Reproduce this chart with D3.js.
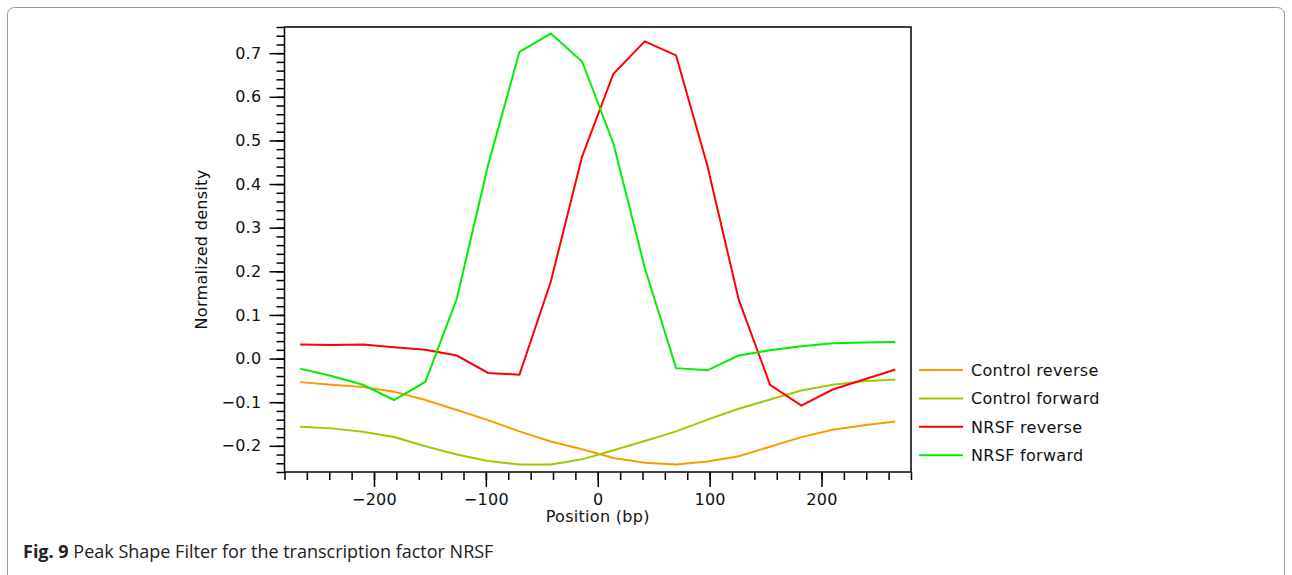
<!DOCTYPE html>
<html>
<meta charset="utf-8">
<title>Peak Shape Filter NRSF</title>
<style>
  body { margin: 0; background: #fff; }
  .tick text, .lab { font-family: "DejaVu Sans", sans-serif; font-size: 16px; letter-spacing: 0.3px; fill: #111; }
  .caption { font-family: "Open Sans", sans-serif; font-size: 18px; fill: #222; }
</style>
<body>
<div id="chart"></div>
<script src="https://d3js.org/d3.v7.min.js"></script>
<script>

// positions (bp)
const positions = [-266, -238, -210, -182, -154, -126, -98, -70, -42, -14,
  14, 42, 70, 98, 126, 154, 182, 210, 238, 266];

const controlReverse = [-0.054, -0.060, -0.065, -0.076, -0.095, -0.118, -0.141, -0.167, -0.190, -0.208,
  -0.228, -0.239, -0.243, -0.236, -0.224, -0.202, -0.180, -0.163, -0.153, -0.144];

const controlForward = [-0.156, -0.160, -0.168, -0.180, -0.201, -0.220, -0.235, -0.243, -0.243, -0.231,
  -0.210, -0.189, -0.167, -0.140, -0.115, -0.094, -0.073, -0.060, -0.052, -0.048];

const nrsfReverse = [0.032, 0.031, 0.032, 0.026, 0.020, 0.007, -0.033, -0.037, 0.176, 0.463,
  0.653, 0.727, 0.695, 0.442, 0.135, -0.060, -0.108, -0.071, -0.048, -0.025];

const nrsfForward = [-0.023, -0.040, -0.060, -0.095, -0.053, 0.137, 0.444, 0.703, 0.745, 0.681,
  0.493, 0.208, -0.022, -0.027, 0.007, 0.019, 0.028, 0.035, 0.037, 0.038];

const seriesNames = ['Control reverse', 'Control forward', 'NRSF reverse', 'NRSF forward'];
const seriesValues = [controlReverse, controlForward, nrsfReverse, nrsfForward];
const colors = ['#ff9900', '#99cc00', '#ff0000', '#00ee00'];

const xMajor = [-200, -100, 0, 100, 200];
const yMajor = [-0.2, -0.1, 0.0, 0.1, 0.2, 0.3, 0.4, 0.5, 0.6, 0.7];

const W = 1292, H = 575;
const plot = {left: 284.5, right: 911, top: 27, bottom: 472};

const svg = d3.select('#chart').append('svg')
  .attr('width', W)
  .attr('height', H);

// figure frame
svg.append('rect')
  .attr('x', 7.5).attr('y', 7.5)
  .attr('width', 1277).attr('height', 600)
  .attr('rx', 7)
  .attr('fill', 'none')
  .attr('stroke', '#9a9a9a')
  .attr('stroke-width', 1);

const x = d3.scaleLinear().domain([-280, 280]).range([plot.left, plot.right]);
const y = d3.scaleLinear().domain([-0.26, 0.76]).range([plot.bottom, plot.top]);

const fmtY = d3.format('.1f');

// minor ticks
svg.append('g')
  .attr('transform', `translate(0,${plot.bottom})`)
  .call(d3.axisBottom(x).tickValues(d3.range(-280, 281, 20)).tickSize(8).tickFormat(''))
  .call(g => g.select('.domain').remove())
  .call(g => g.selectAll('line').attr('stroke', '#000').attr('stroke-width', 1.5));

svg.append('g')
  .attr('transform', `translate(${plot.left},0)`)
  .call(d3.axisLeft(y).tickValues(d3.range(-13, 39).map(i => i * 0.02)).tickSize(8).tickFormat(''))
  .call(g => g.select('.domain').remove())
  .call(g => g.selectAll('line').attr('stroke', '#000').attr('stroke-width', 1.5));

// major ticks
svg.append('g')
  .attr('transform', `translate(0,${plot.bottom})`)
  .call(d3.axisBottom(x).tickValues(xMajor).tickSize(15).tickPadding(7).tickFormat(d3.format('d')))
  .call(g => g.select('.domain').remove())
  .call(g => g.selectAll('line').attr('stroke', '#000').attr('stroke-width', 1.5))
  .call(g => g.selectAll('text').attr('font-family', null).attr('font-size', null));

svg.append('g')
  .attr('transform', `translate(${plot.left},0)`)
  .call(d3.axisLeft(y).tickValues(yMajor).tickSize(15).tickPadding(8).tickFormat(fmtY))
  .call(g => g.select('.domain').remove())
  .call(g => g.selectAll('line').attr('stroke', '#000').attr('stroke-width', 1.5))
  .call(g => g.selectAll('text').attr('font-family', null).attr('font-size', null));

// plot box
svg.append('rect')
  .attr('x', plot.left).attr('y', plot.top)
  .attr('width', plot.right - plot.left).attr('height', plot.bottom - plot.top)
  .attr('fill', 'none')
  .attr('stroke', '#000')
  .attr('stroke-width', 1.5);

const line = d3.line()
  .x((d, i) => x(positions[i]))
  .y(d => y(d));

svg.append('g').selectAll('path')
  .data(seriesValues)
  .join('path')
  .attr('d', line)
  .attr('fill', 'none')
  .attr('stroke', (d, i) => colors[i])
  .attr('stroke-width', 2)
  .attr('stroke-linejoin', 'miter');

// axis titles
svg.append('text')
  .attr('class', 'lab')
  .attr('x', x(0))
  .attr('y', 522)
  .attr('text-anchor', 'middle')
  .text('Position (bp)');

svg.append('text')
  .attr('class', 'lab')
  .attr('transform', `translate(207,${(plot.top + plot.bottom) / 2}) rotate(-90)`)
  .attr('text-anchor', 'middle')
  .text('Normalized density');

// legend
const legend = svg.append('g').selectAll('g')
  .data(seriesNames)
  .join('g')
  .attr('transform', (d, i) => `translate(919,${370 + i * 28.4})`);

legend.append('line')
  .attr('x1', 0).attr('x2', 44)
  .attr('stroke', (d, i) => colors[i])
  .attr('stroke-width', 2);

legend.append('text')
  .attr('class', 'lab')
  .attr('x', 52)
  .attr('dy', '0.36em')
  .text(d => d);

// caption
const cap = svg.append('text')
  .attr('class', 'caption')
  .attr('x', 23)
  .attr('y', 558);
cap.append('tspan').attr('font-weight', 'bold').text('Fig. 9');
cap.append('tspan').text(' Peak Shape Filter for the transcription factor NRSF');

</script>
</body>
</html>
